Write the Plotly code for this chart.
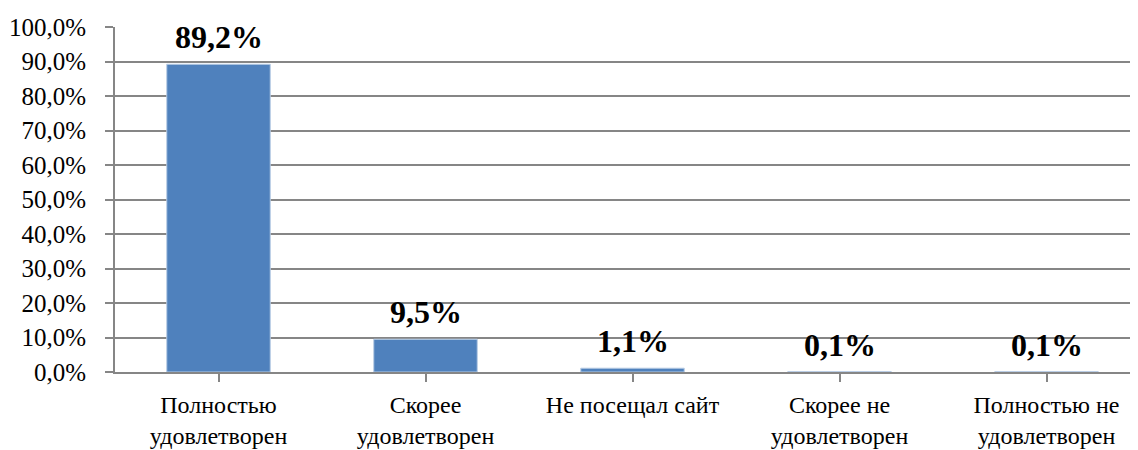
import plotly.graph_objects as go

categories = ["Полностью<br>удовлетворен", "Скорее<br>удовлетворен", "Не посещал сайт",
              "Скорее не<br>удовлетворен", "Полностью не<br>удовлетворен"]
values = [89.2, 9.5, 1.1, 0.1, 0.1]
labels = ["89,2%", "9,5%", "1,1%", "0,1%", "0,1%"]
y_ticks = [0, 10, 20, 30, 40, 50, 60, 70, 80, 90, 100]
y_ticktext = ["0,0%", "10,0%", "20,0%", "30,0%", "40,0%", "50,0%", "60,0%", "70,0%", "80,0%", "90,0%", "100,0%"]

FONT = "Liberation Serif, Times New Roman, serif"
GRID = "#868686"

fig = go.Figure()
fig.add_trace(go.Bar(
    x=list(range(len(categories))), y=values, width=0.5,
    marker=dict(color="#4F81BD", line=dict(color="#B9CDE5", width=1)),
    hoverinfo="skip",
))
for i, (v, t) in enumerate(zip(values, labels)):
    fig.add_annotation(x=i, y=v, text=f"<b>{t}</b>", showarrow=False,
                       yanchor="bottom", yshift=7,
                       font=dict(family=FONT, size=32, color="black"))

fig.update_layout(
    width=1138, height=450,
    margin=dict(l=107, r=0, t=19, b=86),
    plot_bgcolor="white", paper_bgcolor="white",
    showlegend=False,
    font=dict(family=FONT, size=24, color="black"),
)
fig.update_xaxes(
    range=[-0.5, -0.5 + 1031 / 207], tickmode="array",
    tickvals=list(range(len(categories))), ticktext=categories,
    tickson="boundaries", ticks="outside", ticklen=8, tickwidth=2, tickcolor=GRID,
    showline=True, linecolor=GRID, linewidth=2, showgrid=False, zeroline=False,
    tickfont=dict(family=FONT, size=24, color="black"),
    ticklabelstandoff=2,
)
fig.update_yaxes(
    range=[0, 100], tickmode="array", tickvals=y_ticks, ticktext=y_ticktext,
    ticks="outside", ticklen=8, tickwidth=2, tickcolor=GRID,
    showline=True, linecolor=GRID, linewidth=2,
    showgrid=True, gridcolor=GRID, gridwidth=2, zeroline=False,
    tickfont=dict(family=FONT, size=25, color="black"),
    ticklabelstandoff=14,
)
fig.write_html("out.html")
